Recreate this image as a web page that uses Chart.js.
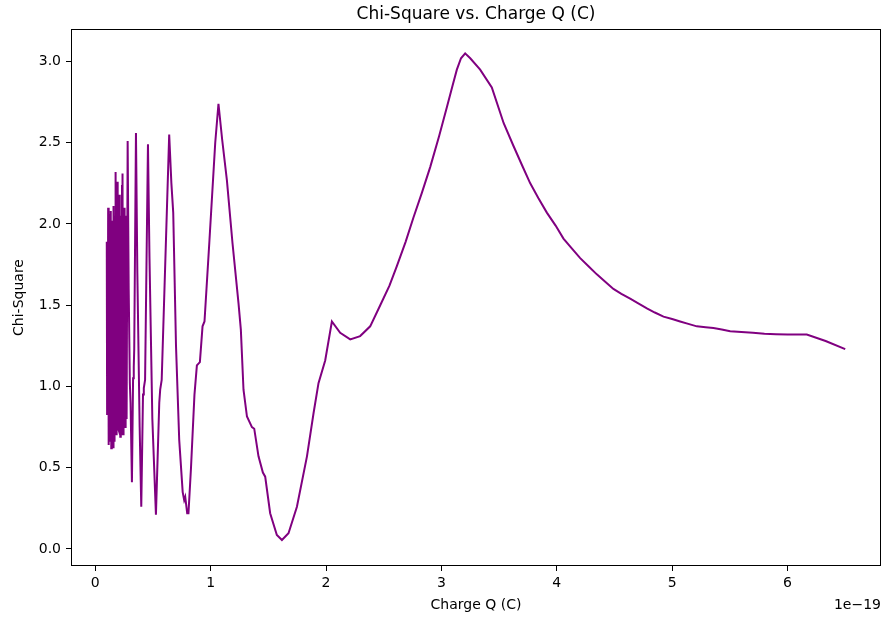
<!DOCTYPE html>
<html>
<head>
<meta charset="utf-8">
<script src="https://cdn.jsdelivr.net/npm/chart.js@4"></script>
<style>
  body { margin: 0; background: #fff; }
  #wrap { width: 885px; height: 620px; }
</style>
</head>
<body>
<div id="wrap"><canvas id="chart" width="885" height="620"></canvas></div>
<script>
// Charge Q in units of 1e-19 C
const chargeQ = [
  0.100, 0.103, 0.106, 0.109, 0.112, 0.115, 0.118, 0.121, 0.124, 0.127,
  0.130, 0.133, 0.136, 0.139, 0.142, 0.145, 0.148, 0.151, 0.154, 0.157,
  0.160, 0.163, 0.166, 0.169, 0.172, 0.175, 0.178, 0.181, 0.184, 0.187,
  0.190, 0.193, 0.196, 0.199, 0.202, 0.205, 0.208, 0.211, 0.214, 0.217,
  0.220, 0.223, 0.226, 0.229, 0.232, 0.235, 0.238, 0.241, 0.244, 0.247,
  0.250, 0.253, 0.256, 0.259, 0.262, 0.265, 0.268, 0.272,
  0.281, 0.290, 0.300, 0.306, 0.318, 0.328, 0.334, 0.338,
  0.353, 0.365, 0.385, 0.399, 0.414, 0.421, 0.432, 0.457, 0.470, 0.495,
  0.526, 0.555, 0.563, 0.576, 0.641, 0.660, 0.676, 0.700, 0.728, 0.758,
  0.771, 0.780, 0.797, 0.808, 0.830, 0.860, 0.881, 0.907, 0.930, 0.947,
  0.990, 1.040, 1.068, 1.100, 1.141, 1.190, 1.242, 1.262, 1.285, 1.315,
  1.358, 1.378, 1.415, 1.453, 1.473, 1.516, 1.574, 1.618, 1.675, 1.748,
  1.835, 1.892, 1.935, 1.993, 2.051, 2.123, 2.210, 2.296, 2.383, 2.470,
  2.550, 2.614, 2.690, 2.758, 2.830, 2.903, 2.980, 3.048, 3.100, 3.134,
  3.170, 3.206, 3.250, 3.336, 3.437, 3.540, 3.625, 3.700, 3.770, 3.840,
  3.914, 3.990, 4.058, 4.130, 4.203, 4.275, 4.347, 4.420, 4.491, 4.560,
  4.636, 4.710, 4.781, 4.850, 4.925, 5.000, 5.069, 5.140, 5.214, 5.290,
  5.358, 5.430, 5.503, 5.600, 5.700, 5.800, 5.900, 6.000, 6.100, 6.167,
  6.330, 6.500
];

const chiSquare = [
  1.89, 0.83, 1.85, 0.86, 2.10, 0.64, 1.98, 0.70, 2.06, 0.66,
  1.90, 0.72, 2.08, 0.62, 2.02, 0.75, 1.94, 0.63, 2.00, 0.62,
  2.11, 0.70, 1.96, 0.66, 2.05, 0.78, 2.32, 0.72, 2.20, 0.70,
  2.26, 0.80, 2.21, 0.74, 2.12, 0.73, 2.18, 0.82, 2.00, 0.69,
  2.05, 0.76, 1.95, 0.70, 2.24, 0.72, 2.31, 0.80, 2.10, 0.70,
  1.98, 0.78, 2.10, 0.75, 1.80, 0.86, 2.05, 0.80,
  2.51, 1.60, 1.02, 0.90, 0.41, 1.05, 1.12, 1.23,
  2.56, 1.70, 0.75, 0.26, 0.95, 0.99, 1.04, 2.49, 1.80, 0.80,
  0.21, 0.90, 0.98, 1.04, 2.55, 2.25, 2.07, 1.25, 0.67, 0.35,
  0.30, 0.32, 0.22, 0.22, 0.50, 0.95, 1.13, 1.15, 1.37, 1.40,
  1.90, 2.50, 2.74, 2.52, 2.27, 1.88, 1.51, 1.35, 0.98, 0.815,
  0.75, 0.74, 0.57, 0.47, 0.445, 0.22, 0.086, 0.055, 0.097, 0.26,
  0.57, 0.835, 1.02, 1.16, 1.40, 1.33, 1.29, 1.31, 1.37, 1.50,
  1.62, 1.74, 1.89, 2.04, 2.19, 2.35, 2.54, 2.72, 2.86, 2.95,
  3.02, 3.05, 3.02, 2.95, 2.84, 2.62, 2.48, 2.36, 2.25, 2.16,
  2.07, 1.99, 1.91, 1.85, 1.79, 1.74, 1.69, 1.645, 1.60, 1.57,
  1.54, 1.51, 1.48, 1.455, 1.43, 1.415, 1.40, 1.385, 1.37, 1.365,
  1.36, 1.35, 1.34, 1.335, 1.33, 1.325, 1.322, 1.32, 1.32, 1.32,
  1.28, 1.23
];

const xTicks = [0, 1, 2, 3, 4, 5, 6];
const yTicks = [0, 0.5, 1, 1.5, 2, 2.5, 3];

const FONT = "'DejaVu Sans', sans-serif";

// spines, title, axis labels and the 1e-19 offset text
const decor = {
  id: "decor",
  afterDraw(chart) {
    const { ctx, chartArea: a } = chart;
    ctx.save();
    ctx.strokeStyle = "#000";
    ctx.lineWidth = 1;
    ctx.strokeRect(a.left + 0.5, a.top + 0.5, a.right - a.left - 1, a.bottom - a.top - 1);

    ctx.fillStyle = "#000";
    const cx = (a.left + a.right) / 2;
    ctx.font = "17px " + FONT;
    ctx.textAlign = "center";
    ctx.textBaseline = "alphabetic";
    ctx.fillText("Chi-Square vs. Charge Q (C)", cx, a.top - 10);

    ctx.font = "14px " + FONT;
    ctx.textBaseline = "middle";
    ctx.fillText("Charge Q (C)", cx, 605);
    ctx.textAlign = "right";
    ctx.fillText("1e\u221219", a.right, 605);

    ctx.translate(19, (a.top + a.bottom) / 2);
    ctx.rotate(-Math.PI / 2);
    ctx.textAlign = "center";
    ctx.fillText("Chi-Square", 0, 0);
    ctx.restore();
  },
};

const points = chargeQ.map((q, i) => ({ x: q, y: chiSquare[i] }));

new Chart(document.getElementById("chart"), {
  type: "line",
  data: {
    datasets: [
      {
        data: points,
        borderColor: "#800080",
        borderWidth: 2,
        pointRadius: 0,
        tension: 0,
        fill: false,
      },
    ],
  },
  options: {
    responsive: false,
    animation: false,
    devicePixelRatio: 1,
    layout: { padding: { left: 0, right: 4, top: 29, bottom: 0 } },
    plugins: {
      legend: { display: false },
      tooltip: { enabled: false },
    },
    scales: {
      x: {
        type: "linear",
        min: -0.21,
        max: 6.81,
        afterBuildTicks: (s) => { s.ticks = xTicks.map((v) => ({ value: v })); },
        afterFit: (s) => { s.height = 54; },
        grid: { drawOnChartArea: false, drawTicks: true, tickLength: 5, color: "#000" },
        border: { display: false },
        ticks: {
          color: "#000",
          padding: 4,
          maxRotation: 0,
          font: { family: FONT, size: 14 },
          callback: (v) => String(v),
        },
      },
      y: {
        type: "linear",
        min: -0.105,
        max: 3.2,
        afterBuildTicks: (s) => { s.ticks = yTicks.map((v) => ({ value: v })); },
        afterFit: (s) => { s.width = 71; },
        grid: { drawOnChartArea: false, drawTicks: true, tickLength: 5, color: "#000" },
        border: { display: false },
        ticks: {
          color: "#000",
          padding: 5,
          font: { family: FONT, size: 14 },
          callback: (v) => v.toFixed(1),
        },
      },
    },
  },
  plugins: [decor],
});
</script>
</body>
</html>
